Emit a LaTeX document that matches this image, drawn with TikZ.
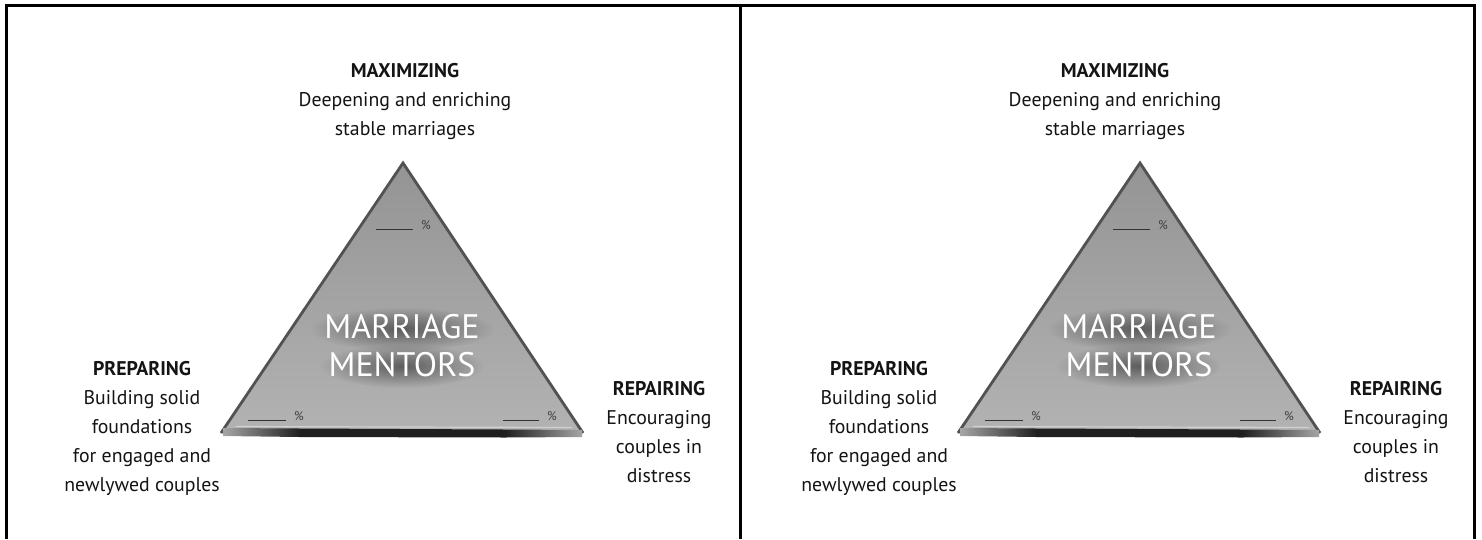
\documentclass[tikz,border=0pt]{standalone}
\usepackage{fontspec}
\setmainfont{PT Sans}
\usetikzlibrary{fadings}
\tikzset{
  frame/.style={line width=2.5pt,black},
  blk/.style={align=center,font=\fontsize{19.8}{29}\selectfont,text=black!92,inner sep=0pt},
  pct/.style={font=\fontsize{12.5}{12.5}\selectfont,text=black!75,inner sep=0pt},
  blank/.style={line width=1pt,black!80},
  mm/.style={align=center,font=\fontsize{34}{38}\selectfont,inner sep=0pt},
  edge/.style={line width=2.8pt,draw=black!68,line join=miter},
  glow/.style={black,opacity=0.45,path fading=fuzzy},
}
\tikzfading[name=fuzzy,inner color=transparent!0,outer color=transparent!100]
\newcommand\mmpanel[3]{% #1 prefix, #2 triangle shift, #3 top text shift
\begin{scope}[shift={(#2,0)}]
  \coordinate (#1apex) at (403,163);
  \coordinate (#1bl) at (221,433);
  \coordinate (#1br) at (583,433);
  \shade[top color=black!42,bottom color=black!30] (#1apex) -- (#1bl) -- (#1br) -- cycle;
  \draw[edge] (#1bl) -- (#1apex) -- (#1br);
  % dark base bar
  \shade[left color=black!35,right color=black!88] (223,428) -- (300,428.5) -- (300,437) -- (223,436) -- cycle;
  \fill[black!88] (300,428.5) -- (505,429.5) -- (505,437.5) -- (300,437) -- cycle;
  \shade[left color=black!88,right color=black!35] (505,429.5) -- (582,430) -- (582,437) -- (505,437.5) -- cycle;
  \draw[black!18,line width=1.2pt] (236,426.5) -- (572,427.5);
  % blanks
  \coordinate (#1t1) at (376,229); \coordinate (#1t2) at (413,229);
  \draw[blank] (#1t1) -- (#1t2);
  \node[pct] (#1tp) at (426,225) {\%};
  \coordinate (#1l1) at (248,420); \coordinate (#1l2) at (286,420);
  \draw[blank] (#1l1) -- (#1l2);
  \node[pct] (#1lp) at (299,416) {\%};
  \coordinate (#1r1) at (503,420); \coordinate (#1r2) at (539,420);
  \draw[blank] (#1r1) -- (#1r2);
  \node[pct] (#1rp) at (552,416) {\%};
  % title with soft dark halo
  \fill[glow] (402,329) ellipse [x radius=92,y radius=22];
  \fill[glow] (402,366) ellipse [x radius=82,y radius=22];
  \node[mm,text=white] (#1mm) at (402,346) {MARRIAGE\\MENTORS};
  % side labels
  \node[blk] (#1prep) at (142,428) {{\bfseries PREPARING}\\Building solid\\foundations\\for engaged and\\newlywed couples};
  \node[blk] (#1rep) at (659,432) {{\bfseries REPAIRING}\\Encouraging\\couples in\\distress};
\end{scope}
\begin{scope}[shift={(#3,0)}]
  \node[blk] (#1max) at (405,102) {{\bfseries MAXIMIZING}\\Deepening and enriching\\stable marriages};
\end{scope}}
\begin{document}
\begin{tikzpicture}[x=1pt,y=-1pt]
  \useasboundingbox (0,0) rectangle (1482,539);
  \fill[white] (0,0) rectangle (1482,539);
  \mmpanel{a}{0}{0}
  \mmpanel{b}{737}{710}
  % frame
  \coordinate (ftl) at (6.5,5.5);
  \coordinate (ftr) at (1474.5,5.5);
  \coordinate (fbl) at (6.5,539);
  \coordinate (fbr) at (1474.5,539);
  \coordinate (fmt) at (740.5,5.5);
  \coordinate (fmb) at (740.5,539);
  \draw[frame] (fbl) -- (ftl) -- (ftr) -- (fbr);
  \draw[frame] (fmt) -- (fmb);
\end{tikzpicture}
\end{document}
